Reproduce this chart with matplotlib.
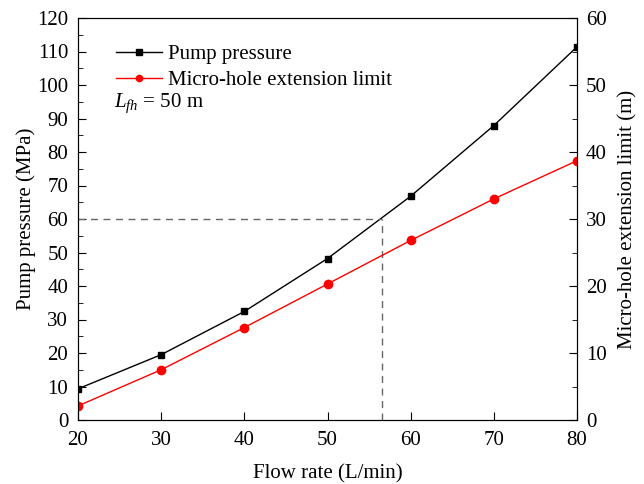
import matplotlib
matplotlib.use("Agg")
import matplotlib.pyplot as plt
from matplotlib.ticker import MultipleLocator

plt.rcParams['font.family'] = ['Liberation Serif', 'DejaVu Serif']
plt.rcParams['mathtext.fontset'] = 'custom'
plt.rcParams['mathtext.rm'] = 'Liberation Serif'
plt.rcParams['mathtext.it'] = 'Liberation Serif:italic'

flow_rate = [20, 30, 40, 50, 60, 70, 80]
pump_pressure = [9.3, 19.5, 32.4, 48.2, 66.8, 87.9, 111.4]
extension_limit = [2.1, 7.5, 13.8, 20.3, 26.8, 33.0, 38.7]
limit_pressure = 60
limit_flow = 56.5

fig = plt.figure(figsize=(6.44, 4.84), dpi=100)
ax = fig.add_axes([78/644, 1-420/484, (577-78)/644, (420-18)/484])
ax2 = ax.twinx()

l1, = ax.plot(flow_rate, pump_pressure, color='black', lw=1, marker='s', ms=5, label='Pump pressure')
l2, = ax2.plot(flow_rate, extension_limit, color='red', lw=1, marker='o', ms=6, label='Micro-hole extension limit')
ax.plot([20, limit_flow], [limit_pressure, limit_pressure], color='#666666', ls=(0, (5, 4)), lw=1)
ax.plot([limit_flow, limit_flow], [0, limit_pressure], color='#666666', ls=(0, (5, 4)), lw=1)

ax.set_xlim(20, 80)
ax.set_ylim(0, 120)
ax2.set_ylim(0, 60)
ax.xaxis.set_major_locator(MultipleLocator(10))
ax.yaxis.set_major_locator(MultipleLocator(10))
ax.yaxis.set_minor_locator(MultipleLocator(5))
ax2.yaxis.set_major_locator(MultipleLocator(10))
ax2.yaxis.set_minor_locator(MultipleLocator(5))

fs = 15
ax.tick_params(axis='both', which='both', direction='in', labelsize=fs)
ax.tick_params(axis='both', which='major', length=6)
ax.tick_params(axis='both', which='minor', length=3.5)
ax.tick_params(axis='x', top=False, pad=8)
ax.tick_params(axis='y', pad=7)
ax2.tick_params(axis='y', which='both', direction='in', labelsize=fs, pad=6.5)
ax2.tick_params(axis='y', which='major', length=6)
ax2.tick_params(axis='y', which='minor', length=3.5)

ax.set_xlabel('Flow rate (L/min)', fontsize=fs, labelpad=10)
ax.set_ylabel('Pump pressure (MPa)', fontsize=fs, labelpad=1)
ax2.set_ylabel('Micro-hole extension limit (m)', fontsize=fs, labelpad=8)

ax.legend([l1, l2], ['Pump pressure', 'Micro-hole extension limit'], loc='upper left',
          bbox_to_anchor=(0.059, 0.955), frameon=False, fontsize=fs, handlelength=2.2,
          handletextpad=0.3, borderaxespad=0, labelspacing=0.3, markerscale=0.75)
ax.text(36/499, (420-103)/402, r'$L_{fh}$ = 50 m', transform=ax.transAxes, fontsize=fs, va='center')

fig.savefig('out.png', dpi=100)
